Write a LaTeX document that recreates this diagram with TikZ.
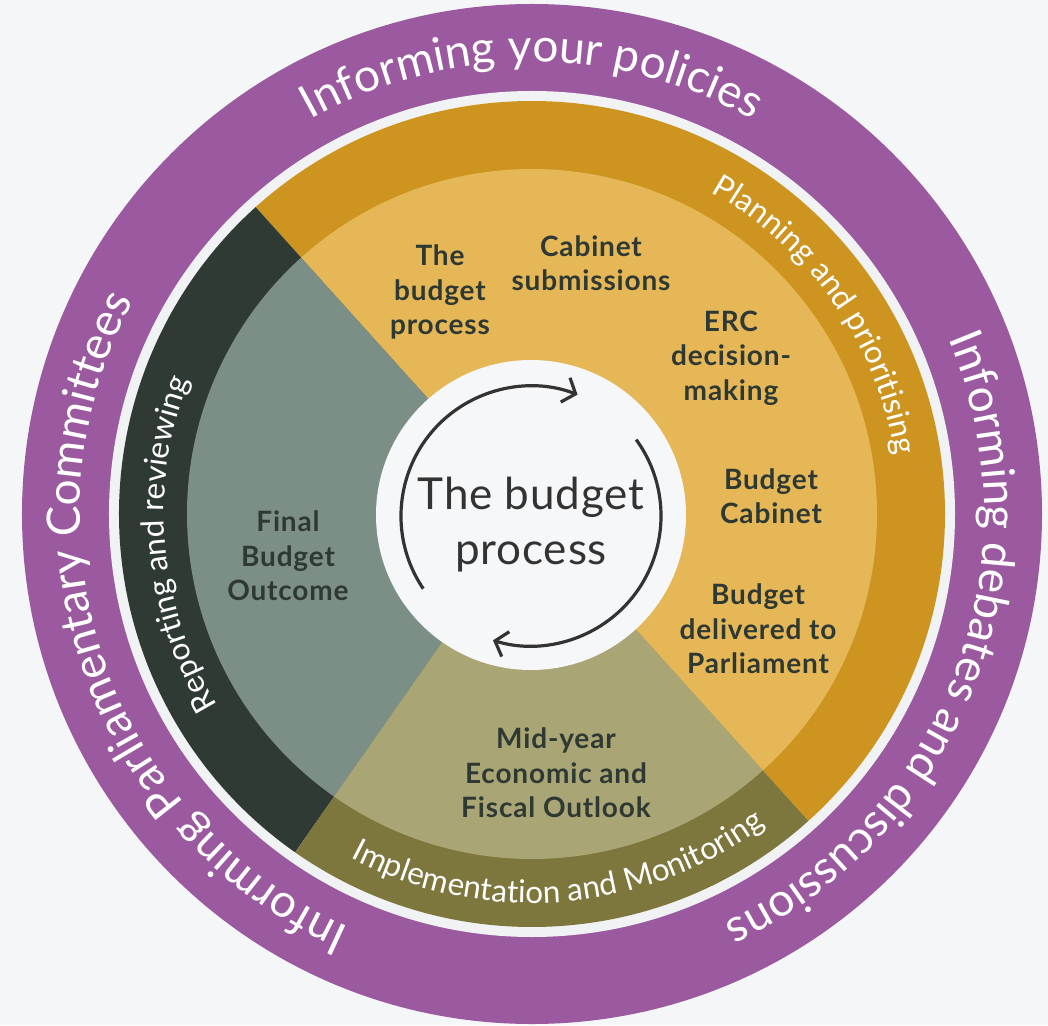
\documentclass[tikz,border=0pt]{standalone}
\usepackage{fontspec}
\setmainfont{Lato}
\newfontfamily\stagefont[LetterSpace=3]{Lato}
\newfontfamily\hubfont[LetterSpace=2]{Lato}
\usetikzlibrary{decorations.text, arrows.meta}

\definecolor{pagebg}{HTML}{F5F6F8}
\definecolor{gapgrey}{HTML}{F1F2F4}
\definecolor{outerpurple}{HTML}{9B59A0}
\definecolor{plandark}{HTML}{CD951F}
\definecolor{planlight}{HTML}{E6B757}
\definecolor{revdark}{HTML}{303A35}
\definecolor{revlight}{HTML}{7C8F86}
\definecolor{impdark}{HTML}{7D763D}
\definecolor{implight}{HTML}{A9A574}
\definecolor{hubwhite}{HTML}{F6F7F9}
\definecolor{inktext}{HTML}{2F3934}
\definecolor{arrowink}{HTML}{333333}

\begin{document}
\begin{tikzpicture}[x=1pt, y=1pt,
  stagetext/.style={font=\stagefont\fontsize{28}{34.5}\selectfont\bfseries, text=inktext, align=center, inner sep=0pt},
  hubtext/.style={font=\hubfont\fontsize{44}{55}\selectfont, text=arrowink, align=center, inner sep=0pt},
  outerarc/.style={decorate, decoration={text along path, text align=center,
      text color=white, text={|\fontsize{46}{46}\selectfont|#1}}},
  innerarc/.style={decorate, decoration={text along path, text align=center,
      text color=white, text={|\fontsize{31.5}{31.5}\selectfont|#1}}},
  cyclearrow/.style={draw=arrowink, line width=3.2pt,
      -{Straight Barb[length=11pt, width=26pt]}}
]
\useasboundingbox (-532,-511) rectangle (516,514);
\fill[pagebg] (-532,-511) rectangle (516,514);

% outer purple band with its light gap
\fill[outerpurple] (0,0) circle[radius=510];
\fill[gapgrey] (0,0) circle[radius=423];

% stage ring (dark) sectors
\fill[plandark] (0,0) -- (-48:413) arc[start angle=-48, end angle=132, radius=413] -- cycle;
\fill[revdark]  (0,0) -- (132:413) arc[start angle=132, end angle=235, radius=413] -- cycle;
\fill[impdark]  (0,0) -- (235:413) arc[start angle=235, end angle=312, radius=413] -- cycle;

% stage discs (light) sectors
\fill[planlight] (0,0) -- (-48:345) arc[start angle=-48, end angle=132, radius=345] -- cycle;
\fill[revlight]  (0,0) -- (132:345) arc[start angle=132, end angle=235, radius=345] -- cycle;
\fill[implight]  (0,0) -- (235:345) arc[start angle=235, end angle=312, radius=345] -- cycle;

% hub
\fill[hubwhite] (-1,-1) circle[radius=155];

% outer band captions
\path[outerarc={Informing your policies}] (170:452) arc[start angle=170, end angle=10, radius=452];
\path[outerarc={Informing debates and discussions}] (69:452) arc[start angle=69, end angle=-111, radius=452];
\path[outerarc={Informing Parliamentary Committees}] (280:452) arc[start angle=280, end angle=118, radius=452];

% stage ring captions
\path[innerarc={Planning and prioritising}] (110:368) arc[start angle=110, end angle=-40, radius=368];
\path[innerarc={Reporting and reviewing}] (260:368) arc[start angle=260, end angle=110, radius=368];
\path[innerarc={Implementation and Monitoring}] (200:389) arc[start angle=200, end angle=349, radius=389];

% stage labels
\node[stagetext] (budgetproc) at (-92,222) {The\\budget\\process};
\node[stagetext] (cabsub) at (59,251) {Cabinet\\submissions};
\node[stagetext] (erc) at (199,156) {ERC\\decision-\\making};
\node[stagetext] (budcab) at (239,18) {Budget\\Cabinet};
\node[stagetext] (delivered) at (226,-115) {Budget\\delivered to\\Parliament};
\node[stagetext] (myefo) at (24,-259) {Mid-year\\Economic and\\Fiscal Outlook};
\node[stagetext] (fbo) at (-244,-42) {Final\\Budget\\Outcome};

% hub title and cycle arrows
\node[hubtext] (hubtitle) at (-1,-11) {The budget\\process};
\coordinate (hubc) at (-1,-2);
\draw[cyclearrow] ([shift={(214:130)}]hubc) arc[start angle=214, end angle=69, radius=130];
\draw[cyclearrow] ([shift={(36:130)}]hubc) arc[start angle=36, end angle=-107, radius=130];
\end{tikzpicture}
\end{document}
